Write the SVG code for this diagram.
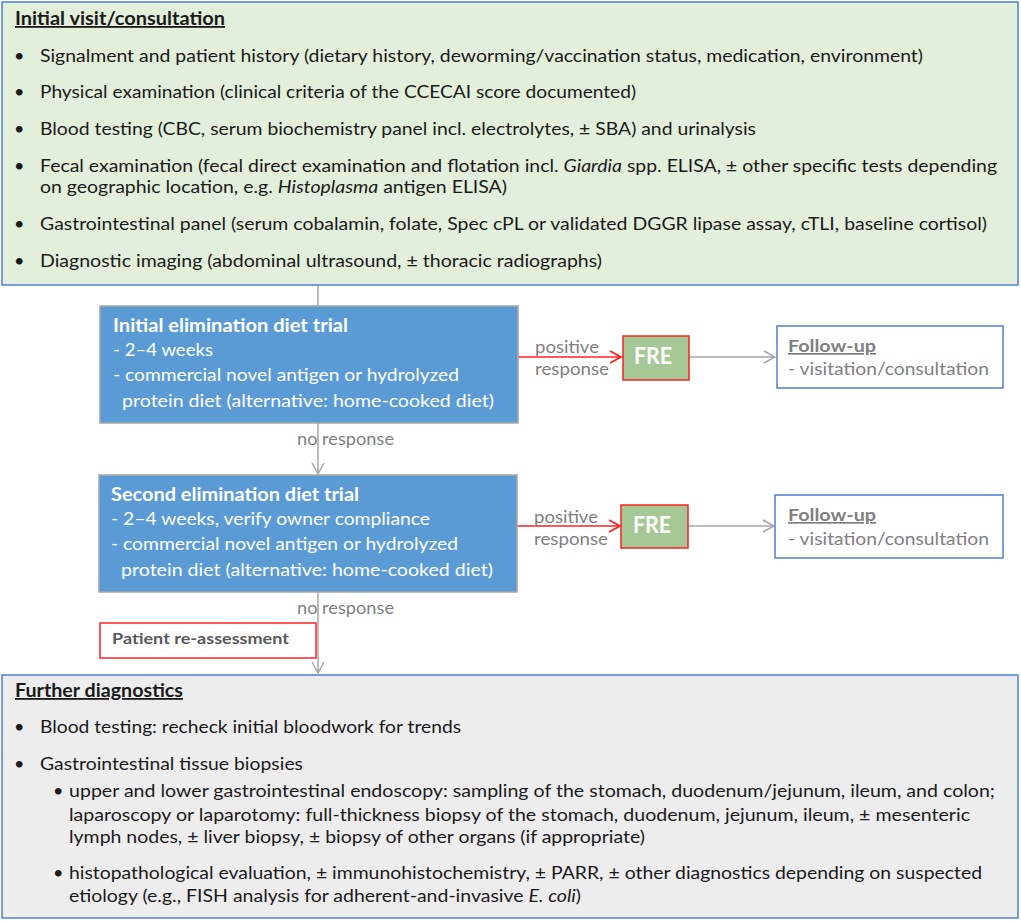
<svg xmlns="http://www.w3.org/2000/svg" width="1021" height="922" viewBox="0 0 1021 922">
<defs>
<style>
text{font-family:Lato,"Open Sans","Liberation Sans",sans-serif;}
.b{font-size:18px;fill:#1a1a1a;}
.h{font-size:18px;font-weight:bold;fill:#1a1a1a;text-decoration:underline;}
.w{font-size:18px;fill:#ffffff;}
.wb{font-size:18px;fill:#ffffff;font-weight:bold;}
.g{font-size:17px;fill:#7f7f7f;}
.gb{font-size:17px;fill:#7f7f7f;font-weight:bold;text-decoration:underline;}
.i{font-style:italic;}
.gray{stroke:#a6a6a6;stroke-width:1.5;fill:none;}
.red{stroke:#ff2020;stroke-width:1.5;fill:none;}
</style>
<marker id="ag" markerWidth="14" markerHeight="14" refX="12" refY="7" orient="auto" markerUnits="userSpaceOnUse"><path d="M1,1 L12,7 L1,13" fill="none" stroke="#a6a6a6" stroke-width="1.5"/></marker>
<marker id="ar" markerWidth="14" markerHeight="14" refX="12" refY="7" orient="auto" markerUnits="userSpaceOnUse"><path d="M1,1 L12,7 L1,13" fill="none" stroke="#ff2020" stroke-width="1.8"/></marker>
</defs>
<rect width="1021" height="922" fill="#ffffff"/>

<g id="connectors">
<line class="gray" x1="318" y1="285" x2="318" y2="306"/>
<line class="gray" x1="318" y1="423" x2="318" y2="474" marker-end="url(#ag)"/>
<line class="gray" x1="318" y1="592" x2="318" y2="673" marker-end="url(#ag)"/>
<line class="red" x1="518" y1="357" x2="621" y2="357" marker-end="url(#ar)"/>
<line class="red" x1="517" y1="526" x2="620" y2="526" marker-end="url(#ar)"/>
<line class="gray" x1="689" y1="357" x2="775" y2="357" marker-end="url(#ag)"/>
<line class="gray" x1="688" y1="526" x2="774" y2="526" marker-end="url(#ag)"/>
<text class="g" x="297" y="445" textLength="97" lengthAdjust="spacingAndGlyphs">no response</text>
<text class="g" x="297" y="614" textLength="97" lengthAdjust="spacingAndGlyphs">no response</text>
<text class="g" x="535" y="353" textLength="64" lengthAdjust="spacingAndGlyphs">positive</text>
<text class="g" x="535" y="375" textLength="74" lengthAdjust="spacingAndGlyphs">response</text>
<text class="g" x="534" y="523" textLength="64" lengthAdjust="spacingAndGlyphs">positive</text>
<text class="g" x="534" y="545" textLength="74" lengthAdjust="spacingAndGlyphs">response</text>
</g>

<g id="initial-visit">
<rect x="2" y="2" width="1016" height="283" fill="#e2efda" stroke="#4f7fd0" stroke-width="1.5"/>
<text class="h" x="15" y="25" textLength="210" lengthAdjust="spacingAndGlyphs">Initial visit/consultation</text>
<g class="b">
<text x="14" y="62">•</text><text x="40" y="62" textLength="883" lengthAdjust="spacingAndGlyphs">Signalment and patient history (dietary history, deworming/vaccination status, medication, environment)</text>
<text x="14" y="98">•</text><text x="40" y="98" textLength="596" lengthAdjust="spacingAndGlyphs">Physical examination (clinical criteria of the CCECAI score documented)</text>
<text x="14" y="135">•</text><text x="40" y="135" textLength="716" lengthAdjust="spacingAndGlyphs">Blood testing (CBC, serum biochemistry panel incl. electrolytes, ± SBA) and urinalysis</text>
<text x="14" y="172">•</text><text x="40" y="172" textLength="957" lengthAdjust="spacingAndGlyphs">Fecal examination (fecal direct examination and flotation incl. <tspan class="i">Giardia</tspan> spp. ELISA, ± other specific tests depending</text>
<text x="40" y="193" textLength="467" lengthAdjust="spacingAndGlyphs">on geographic location, e.g. <tspan class="i">Histoplasma</tspan> antigen ELISA)</text>
<text x="14" y="230">•</text><text x="40" y="230" textLength="947" lengthAdjust="spacingAndGlyphs">Gastrointestinal panel (serum cobalamin, folate, Spec cPL or validated DGGR lipase assay, cTLI, baseline cortisol)</text>
<text x="14" y="267">•</text><text x="40" y="267" textLength="562" lengthAdjust="spacingAndGlyphs">Diagnostic imaging (abdominal ultrasound, ± thoracic radiographs)</text>
</g>
</g>

<g id="diet-trial-1">
<rect x="100" y="306" width="418" height="117" fill="#5b9bd5" stroke="#a6a6a6" stroke-width="1.5"/>
<text class="wb" x="113" y="332" textLength="235" lengthAdjust="spacingAndGlyphs">Initial elimination diet trial</text>
<text class="w" x="113" y="356" textLength="100" lengthAdjust="spacingAndGlyphs">- 2–4 weeks</text>
<text class="w" x="113" y="381" textLength="346" lengthAdjust="spacingAndGlyphs">- commercial novel antigen or hydrolyzed</text>
<text class="w" x="122" y="407" textLength="372" lengthAdjust="spacingAndGlyphs">protein diet (alternative: home-cooked diet)</text>
</g>

<g id="diet-trial-2">
<rect x="99" y="475" width="418" height="117" fill="#5b9bd5" stroke="#a6a6a6" stroke-width="1.5"/>
<text class="wb" x="111" y="501" textLength="248" lengthAdjust="spacingAndGlyphs">Second elimination diet trial</text>
<text class="w" x="111" y="525" textLength="319" lengthAdjust="spacingAndGlyphs">- 2–4 weeks, verify owner compliance</text>
<text class="w" x="111" y="550" textLength="347" lengthAdjust="spacingAndGlyphs">- commercial novel antigen or hydrolyzed</text>
<text class="w" x="121" y="576" textLength="372" lengthAdjust="spacingAndGlyphs">protein diet (alternative: home-cooked diet)</text>
</g>

<g id="fre-1">
<rect x="623" y="336" width="66" height="44" fill="#a6c896" stroke="#ff2020" stroke-width="1.5"/>
<text x="634" y="364" textLength="38" lengthAdjust="spacingAndGlyphs" style="font-size:22px;font-weight:bold;fill:#ffffff">FRE</text>
</g>
<g id="fre-2">
<rect x="621" y="505" width="67" height="43" fill="#a6c896" stroke="#ff2020" stroke-width="1.5"/>
<text x="633" y="533" textLength="38" lengthAdjust="spacingAndGlyphs" style="font-size:22px;font-weight:bold;fill:#ffffff">FRE</text>
</g>

<g id="follow-up-1">
<rect x="777" y="326" width="226" height="62" fill="#ffffff" stroke="#4f7fd0" stroke-width="1.5"/>
<text class="gb" x="788" y="352" textLength="88" lengthAdjust="spacingAndGlyphs">Follow-up</text>
<text class="g" x="788" y="375" textLength="201" lengthAdjust="spacingAndGlyphs">- visitation/consultation</text>
</g>
<g id="follow-up-2">
<rect x="775" y="495" width="228" height="63" fill="#ffffff" stroke="#4f7fd0" stroke-width="1.5"/>
<text class="gb" x="788" y="521" textLength="88" lengthAdjust="spacingAndGlyphs">Follow-up</text>
<text class="g" x="788" y="545" textLength="201" lengthAdjust="spacingAndGlyphs">- visitation/consultation</text>
</g>

<g id="patient-reassessment">
<rect x="100" y="623" width="216" height="35" fill="#ffffff" stroke="#ff2020" stroke-width="1.5"/>
<text x="112" y="644" textLength="177" lengthAdjust="spacingAndGlyphs" style="font-size:16px;font-weight:bold;fill:#595959">Patient re-assessment</text>
</g>

<g id="further-diagnostics">
<rect x="2" y="675" width="1016" height="243" fill="#ededed" stroke="#4f7fd0" stroke-width="1.5"/>
<text class="h" x="15" y="697" textLength="168" lengthAdjust="spacingAndGlyphs">Further diagnostics</text>
<g class="b">
<text x="14" y="733">•</text><text x="40" y="733" textLength="421" lengthAdjust="spacingAndGlyphs">Blood testing: recheck initial bloodwork for trends</text>
<text x="14" y="770">•</text><text x="40" y="770" textLength="263" lengthAdjust="spacingAndGlyphs">Gastrointestinal tissue biopsies</text>
<text x="53" y="797">•</text><text x="69" y="797" textLength="926" lengthAdjust="spacingAndGlyphs">upper and lower gastrointestinal endoscopy: sampling of the stomach, duodenum/jejunum, ileum, and colon;</text>
<text x="69" y="821" textLength="901" lengthAdjust="spacingAndGlyphs">laparoscopy or laparotomy: full-thickness biopsy of the stomach, duodenum, jejunum, ileum, ± mesenteric</text>
<text x="69" y="843" textLength="576" lengthAdjust="spacingAndGlyphs">lymph nodes, ± liver biopsy, ± biopsy of other organs (if appropriate)</text>
<text x="53" y="879">•</text><text x="69" y="879" textLength="913" lengthAdjust="spacingAndGlyphs">histopathological evaluation, ± immunohistochemistry, ± PARR, ± other diagnostics depending on suspected</text>
<text x="69" y="902" textLength="512" lengthAdjust="spacingAndGlyphs">etiology (e.g., FISH analysis for adherent-and-invasive <tspan class="i">E. coli</tspan>)</text>
</g>
</g>
</svg>
